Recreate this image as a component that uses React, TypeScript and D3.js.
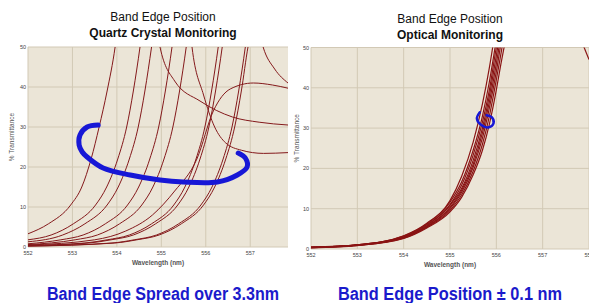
import React, { useEffect, useRef } from 'react';
import * as d3 from 'd3';

type Pt = [number, number];

const xTicks = [552, 553, 554, 555, 556, 557, 558];
const yTicks = [0, 10, 20, 30, 40, 50];

// quartz crystal monitoring: band edges spread out, a few overshoot and roll over
const quartzCurves: Pt[][] = [
  [[552, 3.3], [552.46, 5.8], [552.96, 10.5], [553.21, 15], [553.42, 22], [553.6, 30], [553.78, 39], [553.96, 50], [554.02, 55]],
  [[552, 1.8], [552.52, 3.0], [553.02, 5.8], [553.52, 10.5], [553.77, 15], [554.02, 22], [554.22, 30], [554.37, 39], [554.52, 50], [554.58, 55]],
  [[552, 1.3], [552.78, 3.0], [553.28, 5.8], [553.78, 10.5], [554.03, 15], [554.28, 22], [554.48, 30], [554.63, 39], [554.78, 50], [554.88, 58], [554.97, 50], [555.3, 41.5], [555.87, 36.5], [556.6, 32.5], [557.2, 31.2], [557.85, 30.5]],
  [[552, 0.8], [552.74, 1.8], [553.24, 3.0], [553.74, 5.8], [554.24, 10.5], [554.49, 15], [554.74, 22], [554.94, 30], [555.09, 39], [555.24, 50], [555.3, 55]],
  [[552, 0.6], [553.06, 1.8], [553.56, 3.0], [554.06, 5.8], [554.56, 10.5], [554.81, 15], [555.06, 22], [555.26, 30], [555.41, 39], [555.56, 50], [555.63, 56], [555.69, 50], [555.95, 38], [556.2, 30], [556.45, 26], [556.8, 24.2], [557.3, 23.4], [557.85, 23.6]],
  [[552, 0.4], [553.28, 1.0], [553.78, 1.8], [554.28, 3.0], [554.78, 5.8], [555.28, 10.5], [555.53, 15], [555.78, 22], [555.98, 30], [556.13, 39], [556.28, 50], [556.34, 55]],
  [[552, 0.35], [553.37, 1.0], [553.87, 1.8], [554.37, 3.0], [554.87, 5.8], [555.37, 10.5], [555.62, 15], [555.87, 22], [556.07, 30], [556.22, 39], [556.37, 50], [556.43, 55]],
  [[552, 0.25], [553.89, 1.0], [554.39, 1.8], [554.89, 3.0], [555.39, 5.8], [555.89, 10.5], [556.14, 15], [556.39, 22], [556.59, 30], [556.74, 39], [556.89, 50], [556.95, 55]],
  [[552, 0.2], [553.95, 1.0], [554.45, 1.8], [554.95, 3.0], [555.45, 5.8], [555.95, 10.5], [556.2, 15], [556.45, 22], [556.65, 30], [556.8, 39], [556.95, 50], [557.12, 58], [557.29, 50], [557.55, 44.5], [557.85, 41]],
  [[552, 0.5], [553.5, 1.8], [554.2, 4], [554.8, 8], [555.3, 14], [555.8, 22], [556.17, 34], [556.55, 39.5], [557.07, 41], [557.5, 40.5], [557.85, 39.7]],
];

const quartzLoop: Pt[] = [
  [553.58, 30.5], [553.33, 30], [553.17, 28], [553.15, 25.5], [553.22, 23.75], [553.33, 22.5],
  [553.69, 19.75], [554.3, 18], [554.97, 16.75], [555.49, 16.25], [556.26, 16.25],
  [556.71, 18], [556.93, 20], [556.89, 22.25], [556.73, 23.5],
];

// optical monitoring: all runs land within about 0.1 nm
const opticalCurves: Pt[][] = [
  [[552, 0.45], [553, 1.05], [554, 3.3], [554.5, 6.4], [555, 12], [555.25, 18], [555.5, 26.5], [555.7, 36], [555.85, 45], [556, 56]],
  [[552, 0.45], [553, 1.0], [554, 3.2], [554.5, 6.2], [555, 11.6], [555.25, 16.6], [555.5, 24.5], [555.7, 33], [555.85, 41.5], [556, 52]],
  [[552, 0.4], [553, 1.0], [554, 3.0], [554.5, 6.0], [555, 11], [555.25, 15.8], [555.5, 23.3], [555.7, 31.5], [555.85, 39.5], [556, 50], [556.1, 56]],
  [[552, 0.4], [553, 0.95], [554, 2.9], [554.5, 5.8], [555, 10.8], [555.25, 15], [555.5, 22], [555.7, 30], [555.85, 38], [556, 48], [556.1, 55]],
  [[552, 0.4], [553, 0.95], [554, 2.85], [554.5, 5.6], [555, 10.3], [555.25, 14.5], [555.5, 21], [555.7, 28.8], [555.85, 36.5], [556, 46], [556.1, 53]],
  [[552, 0.35], [553, 0.9], [554, 2.8], [554.5, 5.5], [555, 10], [555.25, 14], [555.5, 20.3], [555.7, 27.5], [555.85, 35], [556, 44], [556.1, 51], [556.2, 57]],
  [[552, 0.35], [553, 0.9], [554, 2.7], [554.5, 5.4], [555, 9.6], [555.25, 13.4], [555.5, 19.3], [555.7, 26], [555.85, 33], [556, 42], [556.1, 48.5], [556.2, 55]],
  [[552, 0.3], [553, 0.85], [554, 2.6], [554.5, 5.2], [555, 9.2], [555.25, 12.8], [555.5, 18.4], [555.7, 24.5], [555.85, 31], [556, 39.5], [556.1, 46], [556.2, 52]],
  [[557.86, 51], [558, 47]],
];

const opticalLoop: Pt[] = [
  [555.64, 33.9], [555.58, 32.4], [555.66, 30.9], [555.84, 30.2], [555.94, 31.2], [555.9, 32.7], [555.79, 33.2],
];

interface PanelOpts {
  id: string;
  left: number;
  right: number;
  top: number;
  bottom: number;
  xMax: number;
  curves: Pt[][];
  curveColor: string;
  curveWidth: number;
  loop: Pt[];
  loopWidth: number;
  yLabelX: number;
  title1: string;
  title2: string;
  caption: string;
  captionWidth: number;
  centerX: number;
  titleY: number;
}

const FONT = "'Liberation Sans', Arial, sans-serif";

function drawPanel(svg: d3.Selection<SVGSVGElement, unknown, null, undefined>, o: PanelOpts) {
  const x = d3.scaleLinear().domain([552, o.xMax]).range([o.left, o.right]);
  const y = d3.scaleLinear().domain([0, 50]).range([o.bottom, o.top]);

  const g = svg.append('g');

  g.append('clipPath')
    .attr('id', `clip-${o.id}`)
    .append('rect')
    .attr('x', o.left)
    .attr('y', o.top)
    .attr('width', o.right - o.left)
    .attr('height', o.bottom - o.top);

  // plot background
  g.append('rect')
    .attr('x', o.left)
    .attr('y', o.top)
    .attr('width', o.right - o.left)
    .attr('height', o.bottom - o.top)
    .attr('fill', '#ebe5d7');

  const xt = xTicks.filter((t) => t <= o.xMax);

  // grid
  g.selectAll('.vgrid')
    .data(xt)
    .enter()
    .append('line')
    .attr('x1', (d) => x(d))
    .attr('x2', (d) => x(d))
    .attr('y1', o.top)
    .attr('y2', o.bottom)
    .style('stroke', '#d2c9b5')
    .style('stroke-width', 1);

  g.selectAll('.hgrid')
    .data(yTicks)
    .enter()
    .append('line')
    .attr('x1', o.left)
    .attr('x2', o.right)
    .attr('y1', (d) => y(d))
    .attr('y2', (d) => y(d))
    .style('stroke', '#d2c9b5')
    .style('stroke-width', 1);

  // tick labels
  g.selectAll('.xlab')
    .data(xt)
    .enter()
    .append('text')
    .attr('x', (d) => x(d))
    .attr('y', o.bottom + 8)
    .attr('text-anchor', 'middle')
    .style('font-family', FONT)
    .style('font-size', '5.5px')
    .style('fill', '#444')
    .text((d) => String(d));

  g.selectAll('.ylab')
    .data(yTicks)
    .enter()
    .append('text')
    .attr('x', o.left - 2)
    .attr('y', (d) => y(d) + 2)
    .attr('text-anchor', 'end')
    .style('font-family', FONT)
    .style('font-size', '5.5px')
    .style('fill', '#444')
    .text((d) => String(d));

  // axis titles
  g.append('text')
    .attr('x', (o.left + o.right) / 2)
    .attr('y', o.bottom + 18)
    .attr('text-anchor', 'middle')
    .style('font-family', FONT)
    .style('font-size', '6.5px')
    .style('font-weight', 'bold')
    .style('fill', '#555')
    .text('Wavelength (nm)');

  g.append('text')
    .attr('transform', `translate(${o.yLabelX},${(o.top + o.bottom) / 2 - 10}) rotate(-90)`)
    .attr('text-anchor', 'middle')
    .style('font-family', FONT)
    .style('font-size', '6.5px')
    .style('fill', '#555')
    .text('% Transmittance');

  // curves
  const line = d3
    .line<Pt>()
    .x((d) => x(d[0]))
    .y((d) => y(d[1]))
    .curve(d3.curveMonotoneX);

  const plot = g.append('g').attr('clip-path', `url(#clip-${o.id})`);

  plot
    .selectAll('.curve')
    .data(o.curves)
    .enter()
    .append('path')
    .attr('d', (d) => line(d))
    .style('fill', 'none')
    .style('stroke', o.curveColor)
    .style('stroke-width', o.curveWidth);

  const loopLine = d3
    .line<Pt>()
    .x((d) => x(d[0]))
    .y((d) => y(d[1]))
    .curve(d3.curveCatmullRom.alpha(0.5));

  plot
    .append('path')
    .datum(o.loop)
    .attr('d', loopLine)
    .style('fill', 'none')
    .style('stroke', '#1717d6')
    .style('stroke-width', o.loopWidth)
    .style('stroke-linecap', 'round')
    .style('stroke-linejoin', 'round');

  // titles
  g.append('text')
    .attr('x', o.centerX)
    .attr('y', o.titleY)
    .attr('text-anchor', 'middle')
    .style('font-family', FONT)
    .style('font-size', '12px')
    .style('fill', '#111')
    .text(o.title1);

  g.append('text')
    .attr('x', o.centerX)
    .attr('y', o.titleY + 16)
    .attr('text-anchor', 'middle')
    .style('font-family', FONT)
    .style('font-size', '12px')
    .style('font-weight', 'bold')
    .style('fill', '#111')
    .text(o.title2);

  g.append('text')
    .attr('x', o.centerX)
    .attr('y', 300)
    .attr('text-anchor', 'middle')
    .attr('textLength', o.captionWidth)
    .attr('lengthAdjust', 'spacingAndGlyphs')
    .style('font-family', "'Liberation Sans Narrow', 'Arial Narrow', 'Liberation Sans', sans-serif")
    .style('font-size', '18px')
    .style('font-weight', 'bold')
    .style('fill', '#1a1acb')
    .text(o.caption);
}

const App: React.FC = () => {
  const svgRef = useRef<SVGSVGElement>(null);

  useEffect(() => {
    if (!svgRef.current) return;
    const svg = d3.select(svgRef.current);
    svg.selectAll('*').remove();

    drawPanel(svg, {
      id: 'q',
      left: 28,
      right: 288,
      top: 47,
      bottom: 247,
      xMax: 557.85,
      curves: quartzCurves,
      curveColor: '#84191b',
      curveWidth: 1,
      loop: quartzLoop,
      loopWidth: 5,
      yLabelX: 14,
      title1: 'Band Edge Position',
      title2: 'Quartz Crystal Monitoring',
      caption: 'Band Edge Spread over 3.3nm',
      captionWidth: 232,
      centerX: 163,
      titleY: 21,
    });

    drawPanel(svg, {
      id: 'o',
      left: 311,
      right: 589,
      top: 47.5,
      bottom: 249,
      xMax: 558,
      curves: opticalCurves,
      curveColor: '#8a1414',
      curveWidth: 1.2,
      loop: opticalLoop,
      loopWidth: 2.5,
      yLabelX: 299,
      title1: 'Band Edge Position',
      title2: 'Optical Monitoring',
      caption: 'Band Edge Position \u00b1 0.1 nm',
      captionWidth: 224,
      centerX: 450,
      titleY: 23,
    });
  }, []);

  return (
    <svg
      ref={svgRef}
      width={589}
      height={303}
      style={{ position: 'absolute', left: 0, top: 0, background: '#fff' }}
    />
  );
};

export default App;
